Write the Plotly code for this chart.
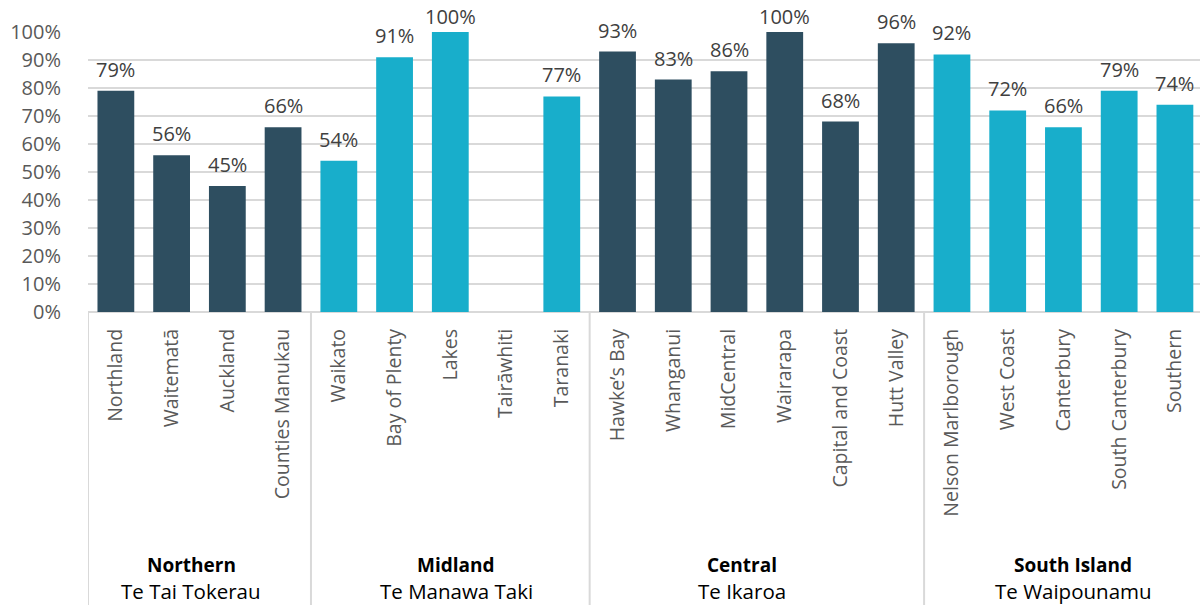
import plotly.graph_objects as go

categories = ["Northland", "Waitematā", "Auckland", "Counties Manukau",
              "Waikato", "Bay of Plenty", "Lakes", "Tairāwhiti", "Taranaki",
              "Hawke’s Bay", "Whanganui", "MidCentral", "Wairarapa", "Capital and Coast", "Hutt Valley",
              "Nelson Marlborough", "West Coast", "Canterbury", "South Canterbury", "Southern"]
values = [79, 56, 45, 66,
          54, 91, 100, None, 77,
          93, 83, 86, 100, 68, 96,
          92, 72, 66, 79, 74]
group_names = ["Northern", "Midland", "Central", "South Island"]
group_subtitles = ["Te Tai Tokerau", "Te Manawa Taki", "Te Ikaroa", "Te Waipounamu"]
group_sizes = [4, 5, 6, 5]
y_ticks = [0, 10, 20, 30, 40, 50, 60, 70, 80, 90, 100]

DARK = "#2E4E60"
CYAN = "#18AECB"
FONT = "Open Sans"
GROUP_XSHIFT = [-8, 6, -15, 10]

W, H = 1200, 605
L, R, T, B = 88, 0, 32, 293
plot_h = H - T - B

colors = []
for gi, n in enumerate(group_sizes):
    colors += [DARK if gi % 2 == 0 else CYAN] * n

xs = list(range(len(categories)))

fig = go.Figure(go.Bar(
    x=xs, y=values, marker_color=colors, marker_line_width=0,
    cliponaxis=False, hoverinfo="skip",
))

def py(px):
    return (H - B - px) / plot_h

shapes = []
bounds = [-0.5]
acc = -0.5
for n in group_sizes:
    acc += n
    bounds.append(acc)
for b in bounds:
    shapes.append(dict(type="line", xref="x", yref="paper", x0=b, x1=b,
                       y0=0, y1=py(H), line=dict(color="#D9D9D9", width=2)))

annotations = []
for x, v in zip(xs, values):
    if v is None:
        continue
    annotations.append(dict(x=x, y=min(v, 97), xref="x", yref="y", text=f"{v}%",
                            showarrow=False, yanchor="bottom", yshift=6 if v < 97 else 8,
                            font=dict(family=FONT, size=20, color="#404040")))
start = 0
for name, sub, n, dx in zip(group_names, group_subtitles, group_sizes, GROUP_XSHIFT):
    cx = start + (n - 1) / 2
    annotations.append(dict(x=cx, y=py(565), xref="x", yref="paper", text=f"<b>{name}</b>",
                            showarrow=False, font=dict(family=FONT, size=19, color="#000000"),
                            xanchor="center", yanchor="middle", xshift=dx))
    annotations.append(dict(x=cx, y=py(591), xref="x", yref="paper", text=sub,
                            showarrow=False, font=dict(family=FONT, size=20.5, color="#000000"),
                            xanchor="center", yanchor="middle", xshift=dx))
    start += n

fig.update_layout(
    width=W, height=H,
    margin=dict(l=L, r=R, t=T, b=B, pad=0),
    plot_bgcolor="white", paper_bgcolor="white",
    bargap=0.34, showlegend=False,
    shapes=shapes, annotations=annotations,
    font=dict(family=FONT),
)
fig.update_xaxes(
    range=[-0.5, len(categories) - 0.55], tickmode="array", tickvals=xs, ticktext=categories,
    tickangle=-90, tickfont=dict(family=FONT, size=19.5, color="#595959"),
    showgrid=False, zeroline=False, showline=False, ticks="", ticklabelstandoff=12,
)
fig.update_yaxes(
    range=[0, 100], tickmode="array", tickvals=y_ticks, ticktext=[f"{t}%" for t in y_ticks],
    tickfont=dict(family=FONT, size=20, color="#595959"),
    showgrid=True, gridcolor="#D9D9D9", gridwidth=1.5, zeroline=True, zerolinecolor="#D9D9D9",
    zerolinewidth=2, showline=False, ticks="", ticklabelstandoff=26,
)

fig.write_html("out.html")
